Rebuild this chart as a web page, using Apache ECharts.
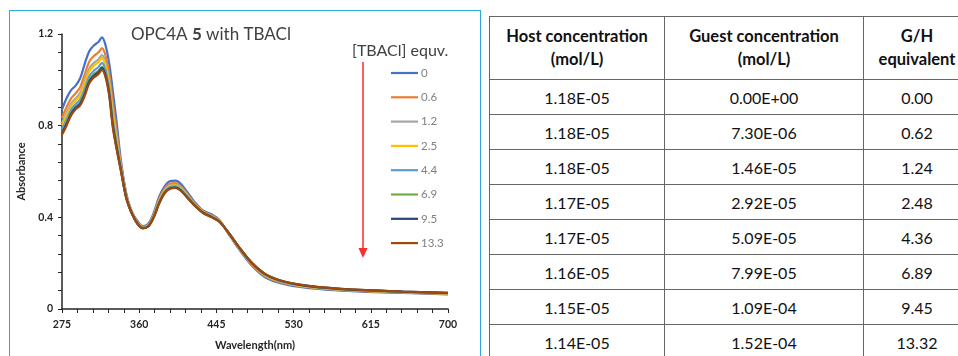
<!DOCTYPE html>
<html>
<head>
<meta charset="utf-8">
<script src="https://cdn.jsdelivr.net/npm/echarts@6/dist/echarts.min.js"></script>
<style>
  html, body { margin: 0; padding: 0; background: #fff; }
  body { position: relative; width: 958px; height: 356px; overflow: hidden; font-family: Lato, 'Open Sans', sans-serif; }
  #frame { position: absolute; left: 9px; top: 10px; width: 470px; height: 400px; border: 1.5px solid #2aa8e0; }
  #chart { position: absolute; left: 0; top: 0; width: 482px; height: 356px; }
  #tbl { position: absolute; left: 489px; top: 16px; width: 481px; border-collapse: collapse; table-layout: fixed;
         border-top: 1.5px solid #2aa8e0; border-left: 1.5px solid #2aa8e0; color: #111; }
  #tbl td, #tbl th { border: 1px solid #666; padding: 0; text-align: center; font-size: 16px; }
  #tbl th { font-weight: bold; height: 62px; line-height: 23px; font-size: 16.5px; }
  #tbl td { height: 34px; }
</style>
</head>
<body>
<div id="frame"></div>
<div id="chart"></div>
<table id="tbl"></table>
<script>
// wavelengths (nm) shared by all spectra
const wavelength = [275, 280, 285, 290, 295, 300, 305, 310, 315, 319, 323, 327, 331, 335, 340, 346, 352, 358, 364, 370,
  376, 382, 388, 394, 400, 406, 412, 420, 430, 440, 448, 458, 470, 485, 500, 520, 545, 575, 610, 650, 700];

const equivLabels = ['0', '0.6', '1.2', '2.5', '4.4', '6.9', '9.5', '13.3'];
const lineColors = ['#4472C4', '#ED7D31', '#A5A5A5', '#FFC000', '#5B9BD5', '#70AD47', '#264478', '#9E480E'];

// absorbance, one array per [TBACl] equivalent
const abs0 = [0.870, 0.920, 0.955, 0.975, 1.007, 1.070, 1.125, 1.150, 1.165, 1.185, 1.150, 1.070, 0.950, 0.820, 0.645, 0.500, 0.425, 0.385, 0.362, 0.372,
  0.420, 0.490, 0.535, 0.558, 0.560, 0.545, 0.515, 0.472, 0.430, 0.412, 0.390, 0.330, 0.260, 0.185, 0.135, 0.108, 0.092, 0.082, 0.075, 0.070, 0.064];
const abs0_6 = [0.834, 0.880, 0.919, 0.941, 0.968, 1.024, 1.079, 1.104, 1.119, 1.138, 1.104, 1.024, 0.897, 0.780, 0.630, 0.493, 0.422, 0.381, 0.359, 0.368,
  0.413, 0.480, 0.525, 0.547, 0.549, 0.535, 0.507, 0.466, 0.427, 0.408, 0.387, 0.332, 0.263, 0.189, 0.140, 0.112, 0.095, 0.085, 0.077, 0.072, 0.066];
const abs1_2 = [0.811, 0.855, 0.896, 0.919, 0.943, 0.994, 1.049, 1.074, 1.089, 1.108, 1.074, 0.994, 0.864, 0.755, 0.621, 0.489, 0.420, 0.378, 0.357, 0.366,
  0.409, 0.474, 0.519, 0.540, 0.543, 0.529, 0.501, 0.463, 0.425, 0.406, 0.386, 0.333, 0.265, 0.192, 0.143, 0.114, 0.097, 0.086, 0.079, 0.073, 0.067];
const abs2_5 = [0.801, 0.844, 0.886, 0.910, 0.932, 0.982, 1.037, 1.062, 1.077, 1.096, 1.062, 0.982, 0.849, 0.744, 0.617, 0.487, 0.419, 0.377, 0.356, 0.364,
  0.407, 0.471, 0.516, 0.537, 0.540, 0.526, 0.499, 0.461, 0.424, 0.404, 0.385, 0.333, 0.266, 0.193, 0.144, 0.116, 0.098, 0.087, 0.079, 0.074, 0.068];
const abs4_4 = [0.784, 0.826, 0.869, 0.894, 0.914, 0.960, 1.015, 1.040, 1.055, 1.074, 1.040, 0.960, 0.824, 0.726, 0.610, 0.484, 0.417, 0.375, 0.354, 0.363,
  0.404, 0.466, 0.511, 0.532, 0.535, 0.521, 0.495, 0.459, 0.422, 0.403, 0.384, 0.334, 0.268, 0.195, 0.147, 0.117, 0.100, 0.088, 0.080, 0.075, 0.069];
const abs6_9 = [0.771, 0.812, 0.856, 0.882, 0.900, 0.944, 0.999, 1.024, 1.039, 1.057, 1.024, 0.944, 0.806, 0.712, 0.604, 0.482, 0.416, 0.373, 0.353, 0.361,
  0.402, 0.463, 0.508, 0.528, 0.531, 0.518, 0.492, 0.457, 0.421, 0.401, 0.383, 0.335, 0.269, 0.197, 0.149, 0.119, 0.101, 0.089, 0.081, 0.075, 0.069];
const abs9_5 = [0.767, 0.807, 0.852, 0.878, 0.895, 0.938, 0.993, 1.018, 1.033, 1.052, 1.018, 0.938, 0.800, 0.707, 0.603, 0.481, 0.416, 0.373, 0.353, 0.361,
  0.401, 0.462, 0.507, 0.527, 0.530, 0.517, 0.491, 0.456, 0.421, 0.401, 0.382, 0.335, 0.269, 0.197, 0.149, 0.119, 0.101, 0.090, 0.082, 0.076, 0.070];
const abs13_3 = [0.760, 0.800, 0.845, 0.872, 0.888, 0.930, 0.985, 1.010, 1.025, 1.043, 1.010, 0.930, 0.790, 0.700, 0.600, 0.480, 0.415, 0.372, 0.352, 0.360,
  0.400, 0.460, 0.505, 0.525, 0.528, 0.515, 0.490, 0.455, 0.420, 0.400, 0.382, 0.335, 0.270, 0.198, 0.150, 0.120, 0.102, 0.090, 0.082, 0.076, 0.070];

const spectra = [abs0, abs0_6, abs1_2, abs2_5, abs4_4, abs6_9, abs9_5, abs13_3];

const xTickLabels = [275, 360, 445, 530, 615, 700];

// table columns
const headers = ['Host concentration<br>(mol/L)', 'Guest concentration<br>(mol/L)', 'G/H<br>equivalent'];
const hostConc = ['1.18E-05', '1.18E-05', '1.18E-05', '1.17E-05', '1.17E-05', '1.16E-05', '1.15E-05', '1.14E-05'];
const guestConc = ['0.00E+00', '7.30E-06', '1.46E-05', '2.92E-05', '5.09E-05', '7.99E-05', '1.09E-04', '1.52E-04'];
const ghEquiv = ['0.00', '0.62', '1.24', '2.48', '4.36', '6.89', '9.45', '13.32'];

// table
const colWidths = [175, 199, 107];
let html = '<colgroup>' + colWidths.map(w => '<col style="width:' + w + 'px">').join('') + '</colgroup>';
html += '<tr>' + headers.map(h => '<th>' + h + '</th>').join('') + '</tr>';
hostConc.forEach((h, i) => {
  html += '<tr><td>' + h + '</td><td>' + guestConc[i] + '</td><td>' + ghEquiv[i] + '</td></tr>';
});
document.getElementById('tbl').innerHTML = html;

// minor ticks every 17 nm between major labels
const xAllTicks = [];
for (let i = 0; i < xTickLabels.length - 1; i++) {
  const step = (xTickLabels[i + 1] - xTickLabels[i]) / 5;
  for (let k = 0; k < 5; k++) xAllTicks.push(xTickLabels[i] + k * step);
}
xAllTicks.push(xTickLabels[xTickLabels.length - 1]);

const axisColor = '#262626';
const font = 'Lato';

const chart = echarts.init(document.getElementById('chart'));
chart.setOption({
  animation: false,
  title: [
    {
      text: '{a|OPC4A }{b|5}{a| with TBACl}',
      left: 126, top: 21,
      textStyle: {
        fontWeight: 'normal',
        rich: {
          a: { fontFamily: font, fontSize: 17, fontWeight: 'normal', color: '#404040' },
          b: { fontFamily: font, fontSize: 17, fontWeight: 'bold', color: '#404040' }
        }
      }
    },
    {
      text: '[TBACl] equv.',
      left: 347, top: 38,
      textStyle: { fontFamily: font, fontSize: 16, fontWeight: 'normal', color: '#404040' }
    }
  ],
  legend: {
    orient: 'vertical',
    left: 386, top: 61,
    icon: 'path://M0 0H27V2.2H0Z',
    itemWidth: 27, itemHeight: 14, itemGap: 10.3,
    textStyle: { fontFamily: font, fontSize: 11.5, color: '#808080', padding: [0, 0, 0, -2], lineHeight: 14 },
    data: equivLabels
  },
  grid: { left: 62, top: 34, width: 386, height: 276, containLabel: false },
  xAxis: {
    type: 'value', min: 275, max: 700,
    name: 'Wavelength(nm)', nameLocation: 'middle', nameGap: 31,
    nameTextStyle: { fontFamily: font, fontSize: 11, fontWeight: 'bold', color: axisColor },
    axisLine: { show: true, lineStyle: { color: axisColor, width: 1.5 } },
    axisTick: { show: true, length: 4, customValues: xAllTicks, lineStyle: { color: axisColor } },
    axisLabel: { customValues: xTickLabels, margin: 10, fontFamily: font, fontSize: 10.5, fontWeight: 'bold', color: axisColor },
    splitLine: { show: false }
  },
  yAxis: {
    type: 'value', min: 0, max: 1.2, interval: 0.4,
    name: 'Absorbance', nameLocation: 'middle', nameGap: 30,
    nameTextStyle: { fontFamily: font, fontSize: 11, fontWeight: 'bold', color: axisColor },
    axisLine: { show: true, lineStyle: { color: axisColor, width: 1.5 } },
    axisTick: { show: true, length: 4, lineStyle: { color: axisColor } },
    minorTick: { show: true, splitNumber: 5, length: 4, lineStyle: { color: axisColor } },
    axisLabel: { margin: 9, fontFamily: font, fontSize: 10.5, fontWeight: 'bold', color: axisColor },
    splitLine: { show: false }
  },
  series: spectra.map((vals, i) => ({
    name: equivLabels[i],
    type: 'line',
    symbol: 'none',
    smooth: 0.35,
    color: lineColors[i],
    lineStyle: { width: 2.2, color: lineColors[i] },
    data: wavelength.map((w, j) => [w, vals[j]])
  })),
  graphic: [
    { type: 'line', shape: { x1: 363, y1: 62, x2: 363, y2: 250 }, style: { stroke: '#ff2a2a', lineWidth: 1.5 } },
    { type: 'polygon', shape: { points: [[358.5, 248], [367.5, 248], [363, 258]] }, style: { fill: '#ff2a2a' } }
  ]
});
</script>
</body>
</html>
